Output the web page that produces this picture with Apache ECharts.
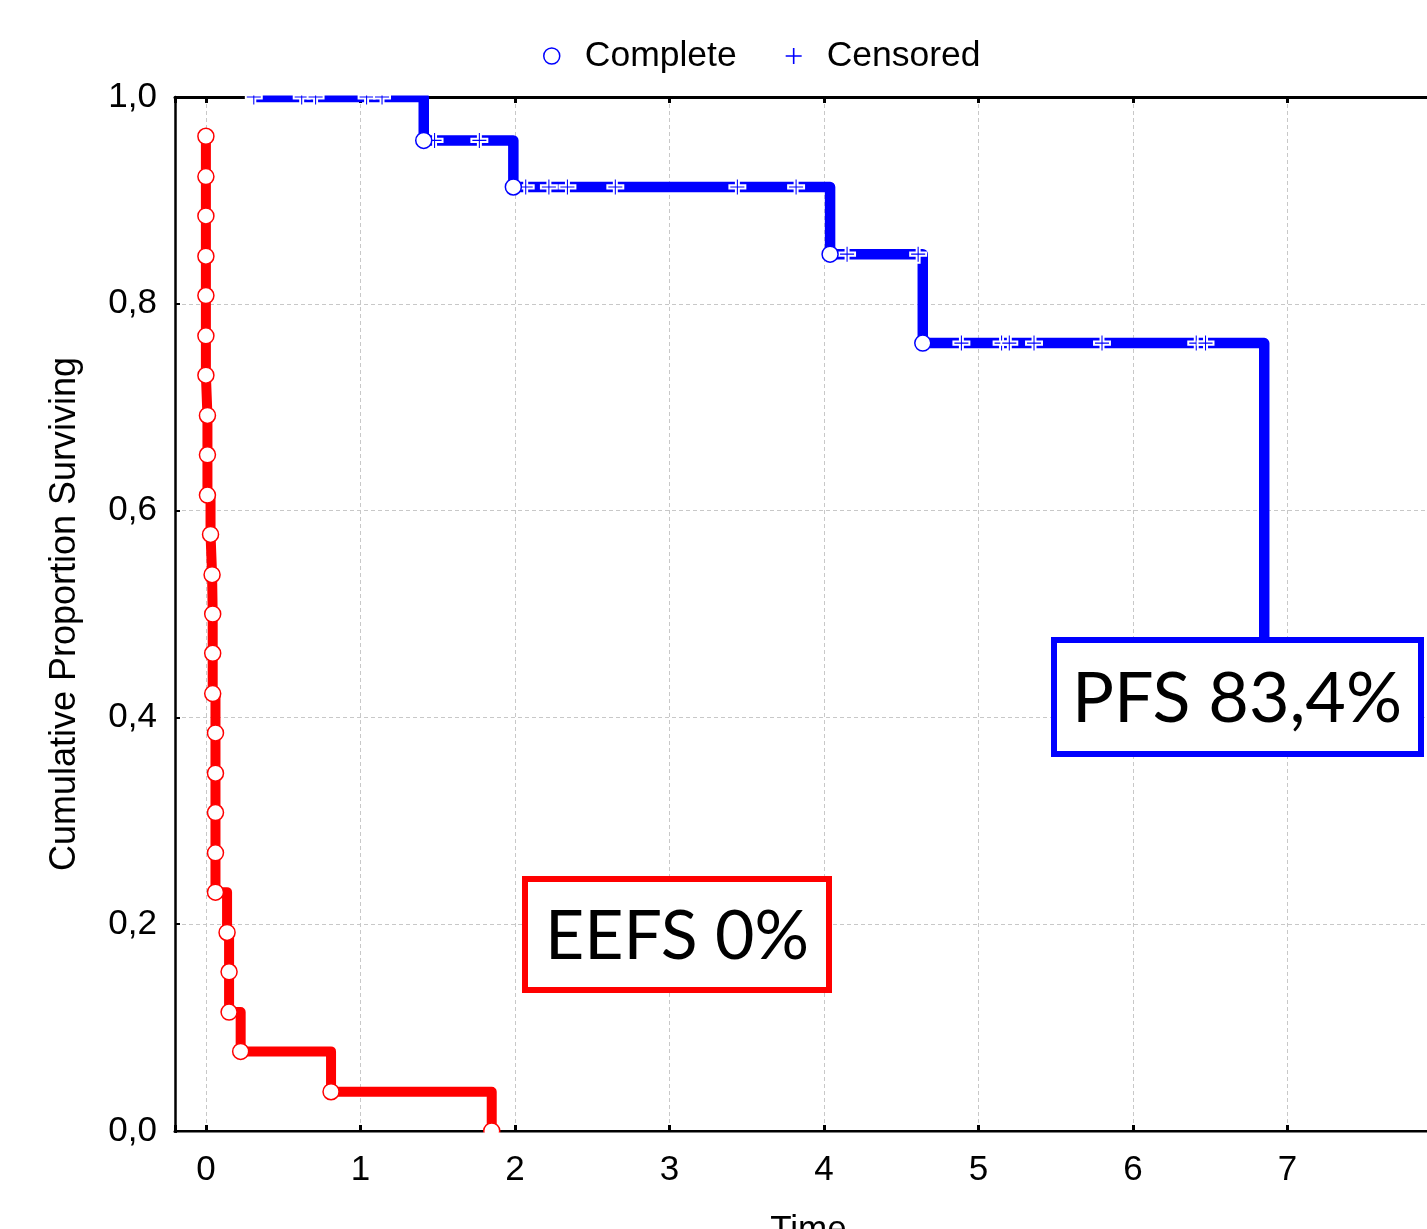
<!DOCTYPE html>
<html>
<head>
<meta charset="utf-8">
<script src="https://cdn.jsdelivr.net/npm/echarts@6/dist/echarts.min.js"></script>
<style>
html,body{margin:0;padding:0;background:#fff;}
#chart{width:1427px;height:1229px;}
</style>
</head>
<body>
<div id="chart"></div>
<script>
// ---- Data ----
// PFS (blue) curve: start point and event (complete) points
const pfsStartT = 0.31;
const pfsStartS = 1.0;
const pfsEventT = [1.41, 1.99, 4.04, 4.64, 6.85];
const pfsEventS = [0.958, 0.913, 0.848, 0.762, 0.381];
// PFS censored observations
const pfsCensorT = [0.31, 0.62, 0.71, 1.04, 1.14, 1.48, 1.77, 2.07, 2.22, 2.34, 2.65, 3.44, 3.82, 4.15, 4.61, 4.89, 5.15, 5.20, 5.36, 5.80, 6.41, 6.47];
const pfsCensorS = [1.0, 1.0, 1.0, 1.0, 1.0, 0.958, 0.958, 0.913, 0.913, 0.913, 0.913, 0.913, 0.913, 0.848, 0.848, 0.762, 0.762, 0.762, 0.762, 0.762, 0.762, 0.762];
// EEFS (red) curve: event points
const eefsEventT = [0, 0, 0, 0, 0, 0, 0, 0.01, 0.01, 0.01, 0.03, 0.04, 0.044, 0.044, 0.044, 0.062, 0.062, 0.062, 0.062, 0.062, 0.137, 0.15, 0.15, 0.225, 0.81, 1.85];
const eefsEventS = [0.962, 0.923, 0.885, 0.846, 0.808, 0.769, 0.731, 0.692, 0.654, 0.615, 0.577, 0.538, 0.500, 0.462, 0.423, 0.385, 0.346, 0.308, 0.269, 0.231, 0.192, 0.154, 0.115, 0.077, 0.038, 0.0];
const xTicks = [0, 1, 2, 3, 4, 5, 6, 7];
const yTicks = [0, 0.2, 0.4, 0.6, 0.8, 1.0];
const legendNames = ['Complete', 'Censored'];
const pfsLabel = 'PFS 83,4%';
const eefsLabel = 'EEFS 0%';

// ---- Build ----
const BLUE = '#0000ff', RED = '#ff0000';
const FONT = '"Liberation Sans", Arial, sans-serif';
const pfsLine = [[pfsStartT, pfsStartS]].concat(pfsEventT.map((t, i) => [t, pfsEventS[i]]));
const pfsEvents = pfsEventT.map((t, i) => [t, pfsEventS[i]]);
const pfsCensor = pfsCensorT.map((t, i) => [t, pfsCensorS[i]]);
const eefsLine = eefsEventT.map((t, i) => [t, eefsEventS[i]]);
const plusPath = 'path://M6.5,0 H9.5 V6.5 H16 V9.5 H9.5 V16 H6.5 V9.5 H0 V6.5 H6.5 Z';
const thinPlus = 'path://M7.2,0 H8.8 V7.2 H16 V8.8 H8.8 V16 H7.2 V8.8 H0 V7.2 H7.2 Z';

const gridLeft = 175, gridTop = 97, gridH = 1034, xMin = -0.2, xMax = 8, pxPerUnit = 154.5;
const gridW = (xMax - xMin) * pxPerUnit;

const chart = echarts.init(document.getElementById('chart'), null, {renderer: 'canvas'});
const isTick = v => xTicks.some(t => Math.abs(t - v) < 1e-6);

const option = {
  backgroundColor: '#ffffff',
  animation: false,
  textStyle: {fontFamily: FONT},
  legend: {
    left: 538, top: 33, z: 20,
    itemWidth: 16, itemHeight: 16, itemGap: 49,
    textStyle: {fontSize: 35.5, color: '#000', fontFamily: FONT, padding: [0, 0, 0, 20]},
    data: [
      {name: legendNames[0], icon: 'circle', itemStyle: {color: '#fff', borderColor: BLUE, borderWidth: 1.5}},
      {name: legendNames[1], icon: thinPlus, itemStyle: {color: BLUE, borderWidth: 0}}
    ]
  },
  grid: {left: gridLeft, top: gridTop, width: gridW, height: gridH, containLabel: false, outerBoundsMode: 'none'},
  xAxis: [{
    type: 'value', position: 'bottom', min: xMin, max: xMax, minInterval: 1, maxInterval: 1, splitNumber: 8,
    name: 'Time', nameLocation: 'middle', nameGap: 82,
    nameTextStyle: {fontSize: 35, color: '#000', fontFamily: FONT},
    axisLine: {show: true, onZero: false, lineStyle: {color: '#000', width: 3}},
    axisTick: {show: true, inside: true, length: 6, lineStyle: {color: '#000', width: 3}},
    axisLabel: {fontSize: 35, color: '#000', margin: 22, fontFamily: FONT,
      formatter: v => (isTick(v) ? String(Math.round(v)) : '')},
    splitLine: {show: true, lineStyle: {color: '#c8c8c8', width: 1, type: [4, 3]}}
  }, {
    type: 'value', position: 'top', min: xMin, max: xMax, minInterval: 1, maxInterval: 1, splitNumber: 8,
    axisLine: {show: true, onZero: false, lineStyle: {color: '#000', width: 3}},
    axisTick: {show: true, inside: true, length: 6, lineStyle: {color: '#000', width: 3}},
    axisLabel: {show: false},
    splitLine: {show: false}
  }],
  yAxis: {
    type: 'value', min: 0, max: 1, interval: 0.2,
    name: 'Cumulative Proportion Surviving', nameLocation: 'middle', nameGap: 92,
    nameTextStyle: {fontSize: 36, color: '#000', fontFamily: FONT},
    axisLine: {show: true, onZero: false, lineStyle: {color: '#000', width: 2.5}},
    axisTick: {show: true, inside: true, length: 5, lineStyle: {color: '#000', width: 2}},
    axisLabel: {fontSize: 35, color: '#000', margin: 18, fontFamily: FONT,
      formatter: v => yTicks.some(t => Math.abs(t - v) < 1e-6) ? v.toFixed(1).replace('.', ',') : ''},
    splitLine: {show: true, lineStyle: {color: '#c8c8c8', width: 1, type: [4, 3]}}
  },
  series: [
    {
      name: 'pfsLine', type: 'line', data: pfsLine, step: 'end', showSymbol: false, symbol: 'none',
      clip: true, z: 2,
      lineStyle: {color: BLUE, width: 10.5, join: 'round', cap: 'butt'}, silent: true
    },
    {
      name: 'eefsLine', type: 'line', data: eefsLine, step: 'end', showSymbol: false, symbol: 'none',
      clip: true, z: 2,
      lineStyle: {color: RED, width: 10, join: 'round', cap: 'butt'}, silent: true
    },
    {
      name: 'Censored', type: 'scatter', data: pfsCensor, symbol: plusPath, symbolSize: [16, 17], z: 4,
      itemStyle: {color: BLUE, borderColor: '#fff', borderWidth: 2, opacity: 1}
    },
    {
      name: 'Complete', type: 'scatter', data: pfsEvents, symbol: 'circle', symbolSize: 16, z: 5,
      itemStyle: {color: '#fff', borderColor: BLUE, borderWidth: 1.5, opacity: 1}
    },
    {
      name: 'eefsComplete', type: 'scatter', data: eefsLine, symbol: 'circle', symbolSize: 16, z: 5,
      itemStyle: {color: '#fff', borderColor: RED, borderWidth: 1.5, opacity: 1}
    }
  ],
  graphic: [
    // masks to clip markers outside plot area
    {type: 'rect', z: 10, silent: true, shape: {x: 177, y: 75, width: 1250, height: 20.5}, style: {fill: '#fff'}},
    {type: 'rect', z: 10, silent: true, shape: {x: 177, y: 1132.6, width: 1250, height: 16}, style: {fill: '#fff'}},
    // annotation boxes
    {type: 'rect', z: 11, silent: true, shape: {x: 1054, y: 640, width: 367, height: 114},
      style: {fill: '#fff', stroke: BLUE, lineWidth: 6}},
    {type: 'text', z: 12, silent: true, x: 1237, y: 699,
      style: {text: pfsLabel, fill: '#000', font: '70px Lato, "Noto Sans", sans-serif', align: 'center', verticalAlign: 'middle'}},
    {type: 'rect', z: 11, silent: true, shape: {x: 525, y: 879, width: 304, height: 111},
      style: {fill: '#fff', stroke: RED, lineWidth: 6}},
    {type: 'text', z: 12, silent: true, x: 677, y: 937,
      style: {text: eefsLabel, fill: '#000', font: '68px Lato, "Noto Sans", sans-serif', align: 'center', verticalAlign: 'middle'}}
  ]
};
chart.setOption(option);
</script>
</body>
</html>
